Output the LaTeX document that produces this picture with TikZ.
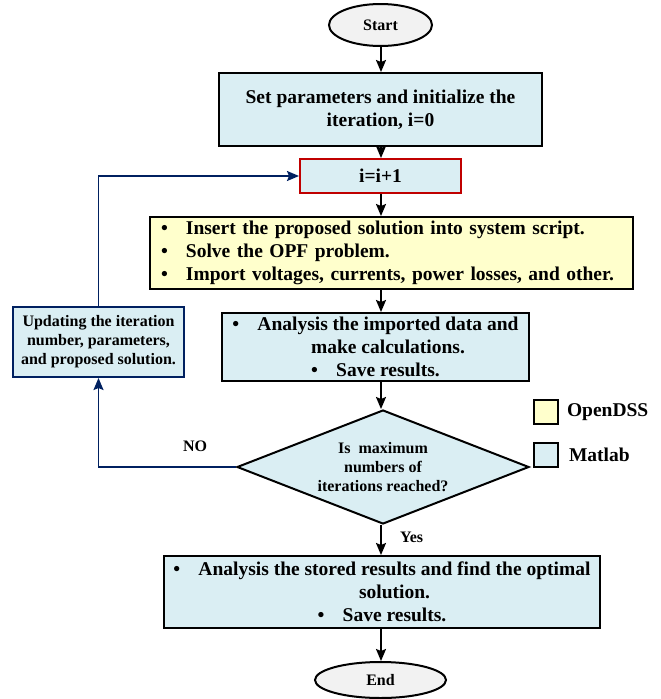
\documentclass[tikz,border=0pt]{standalone}
\usepackage{fontspec}
\setmainfont{Liberation Serif}
\usetikzlibrary{shapes.geometric}
\usetikzlibrary{arrows.meta}
\usetikzlibrary{positioning}
\definecolor{matblue}{HTML}{DAEEF3}
\definecolor{dssyellow}{HTML}{FFFFCC}
\definecolor{termgray}{HTML}{F2F2F2}
\definecolor{loopblue}{HTML}{002060}
\definecolor{incred}{HTML}{C00000}
\newcommand{\bitem}{\makebox[25pt][l]{\textbullet}}

\begin{document}
\begin{tikzpicture}[
  x=1pt, y=-1pt,
  every node/.style={inner sep=0pt, line width=2pt},
  big/.style={font=\bfseries\fontsize{19.5}{23}\selectfont},
  small/.style={font=\bfseries\fontsize{16}{19}\selectfont},
  term/.style={ellipse, draw, fill=termgray, small},
  proc/.style={rectangle, draw, fill=matblue, align=center, big},
  dss/.style={rectangle, draw, fill=dssyellow, align=left, big},
  decide/.style={diamond, draw, fill=matblue, align=center, aspect=2.5, small},
  key/.style={rectangle, draw, minimum size=24pt},
  flow/.style={line width=1.8pt, -{Stealth[length=12pt,width=10pt,inset=2pt]}},
  back/.style={flow, draw=loopblue}
]
\useasboundingbox (0,0) rectangle (661,699);
\coordinate (spine) at (381,0);

% main chain
\node[term, minimum width=103pt, minimum height=42pt] (start) at (380.5,25) {Start};
\node[proc, minimum width=323pt, minimum height=73pt, below=25pt of start] (init)
  {Set parameters and initialize the\\iteration, i=0};
\node[proc, draw=incred, minimum width=161pt, minimum height=34pt, below=11pt of init] (ipp) {i=i+1};
\node[dss, text width=461pt, inner xsep=11pt, minimum height=72pt, below=22pt of ipp, xshift=11pt] (yel)
  {\bitem Insert the proposed solution into system script.\\
   \bitem Solve the OPF problem.\\
   \bitem Import voltages, currents, power losses, and other.};
\node[proc, minimum width=307pt, minimum height=68pt, below=22pt of yel, xshift=-16pt] (ana)
  {\bitem Analysis the imported data and\\\hspace*{25pt}make calculations.\\\bitem Save results.};
\node[decide, minimum width=292pt, minimum height=114pt, below=27pt of ana, xshift=7.5pt] (dec)
  {Is~ maximum\\numbers of\\iterations reached?};
\node[proc, minimum width=436pt, minimum height=72pt, below=30pt of dec, xshift=-1pt] (fin)
  {\bitem Analysis the stored results and find the optimal\\\hspace*{25pt}solution.\\\bitem Save results.};
\node[term, minimum width=131pt, minimum height=36pt, below=32pt of fin, xshift=-1.5pt] (stop) {End};

% feedback box
\node[proc, small, draw=loopblue, minimum width=171pt, minimum height=70pt] (upd) at (98.5,342)
  {Updating the iteration\\number, parameters,\\and proposed solution.};

% labels
\node[small, above left=14pt and 28pt of dec.west] (no) {NO};
\node[small, below right=6pt and 16pt of dec.south] (yes) {Yes};

% legend
\node[key, fill=dssyellow] (kdss) at (546,412) {};
\node[big, right=7pt of kdss] (ldss) {OpenDSS};
\node[key, fill=matblue] (kmat) at (546,454.5) {};
\node[big, right=9pt of kmat] (lmat) {Matlab};

% connectors
\draw[flow] (start.south -| spine) -- (init.north -| spine);
\draw[flow] (init.south -| spine) -- (ipp.north -| spine);
\draw[flow] (ipp.south -| spine) -- (yel.north -| spine);
\draw[flow] (yel.south -| spine) -- (ana.north -| spine);
\draw[flow] (ana.south -| spine) -- (dec.north -| spine);
\draw[flow] (dec.south -| spine) -- (fin.north -| spine);
\draw[flow] (fin.south -| spine) -- (stop.north -| spine);
\draw[back] (dec.west) -| (upd.south);
\draw[back] (upd.north) |- (ipp.west);
\end{tikzpicture}
\end{document}
